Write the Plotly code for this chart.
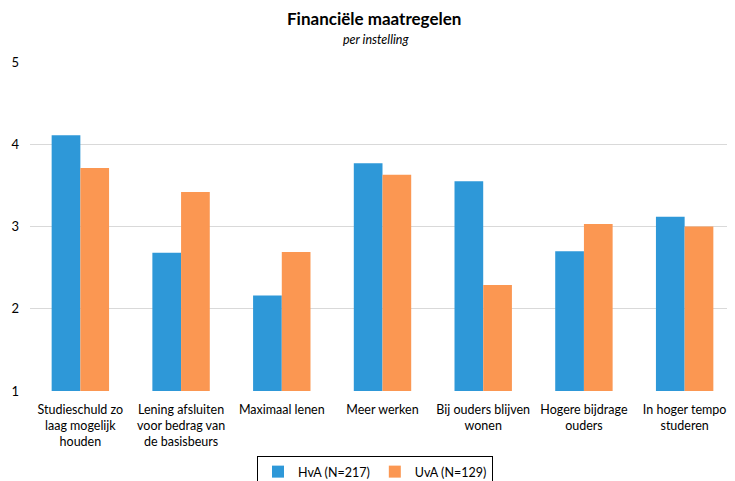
import plotly.graph_objects as go

categories = [
    "Studieschuld zo<br>laag mogelijk<br>houden",
    "Lening afsluiten<br>voor bedrag van<br>de basisbeurs",
    "Maximaal lenen",
    "Meer werken",
    "Bij ouders blijven<br>wonen",
    "Hogere bijdrage<br>ouders",
    "In hoger tempo<br>studeren",
]
hva = [4.11, 2.68, 2.16, 3.77, 3.55, 2.70, 3.12]
uva = [3.71, 3.42, 2.69, 3.63, 2.29, 3.03, 3.00]
series_names = ["HvA (N=217)", "UvA (N=129)"]
y_ticks = [1, 2, 3, 4, 5]

FONT = "Lato"
W, H = 735, 481
OFF = 8  # page body margin offset
# plot area in screenshot pixels: x 30..735, y 62..391
L = 30 - OFF
T = 62 - OFF
R = W - (735 - OFF)
B = H - (391 - OFF)

fig = go.Figure()
fig.add_trace(go.Bar(x=categories, y=hva, name=series_names[0],
                     marker=dict(color="#2E98D8", line=dict(width=0)), base=0))
fig.add_trace(go.Bar(x=categories, y=uva, name=series_names[1],
                     marker=dict(color="#FB9752", line=dict(width=0)), base=0))

pw = W - L - R
ph = H - T - B

def px2paper(px, py):
    # px, py in screenshot pixels
    fx, fy = px - OFF, py - OFF
    return (fx - L) / pw, 1 - (fy - T) / ph

tx, ty = px2paper(374, 18)
sx, sy = px2paper(376, 40)
lx, ly = px2paper(375, 456)

fig.update_layout(
    width=W, height=H,
    margin=dict(l=L, r=R, t=T, b=B, autoexpand=False),
    paper_bgcolor="white", plot_bgcolor="white",
    barmode="group", bargap=0.43, bargroupgap=0,
    font=dict(family=FONT, size=12.5, color="#000000"),
    showlegend=True,
    legend=dict(orientation="h", x=lx, xanchor="center", y=ly, yanchor="top",
                bordercolor="#000000", borderwidth=1, font=dict(size=12.5, family=FONT),
                itemwidth=30, tracegroupgap=0),
    annotations=[
        dict(text="<b>Financiële maatregelen</b>", x=tx, y=ty, xref="paper", yref="paper",
             xanchor="center", yanchor="middle",
             showarrow=False, font=dict(size=17, family=FONT)),
        dict(text="<i>per instelling</i>", x=sx, y=sy, xref="paper", yref="paper",
             xanchor="center", yanchor="middle",
             showarrow=False, font=dict(size=12.5, family=FONT)),
    ],
)

fig.update_yaxes(range=[1, 5], tickvals=y_ticks, showgrid=True, gridcolor="#D9D9D9",
                 gridwidth=1, zeroline=False, showline=False, ticks="", automargin=False,
                 tickfont=dict(size=13, family=FONT), ticklabelstandoff=10)
fig.update_xaxes(showgrid=False, showline=False, ticks="", automargin=False,
                 tickfont=dict(size=12.5, family=FONT), tickangle=0, ticklabelstandoff=9)

fig.write_html("out.html")
